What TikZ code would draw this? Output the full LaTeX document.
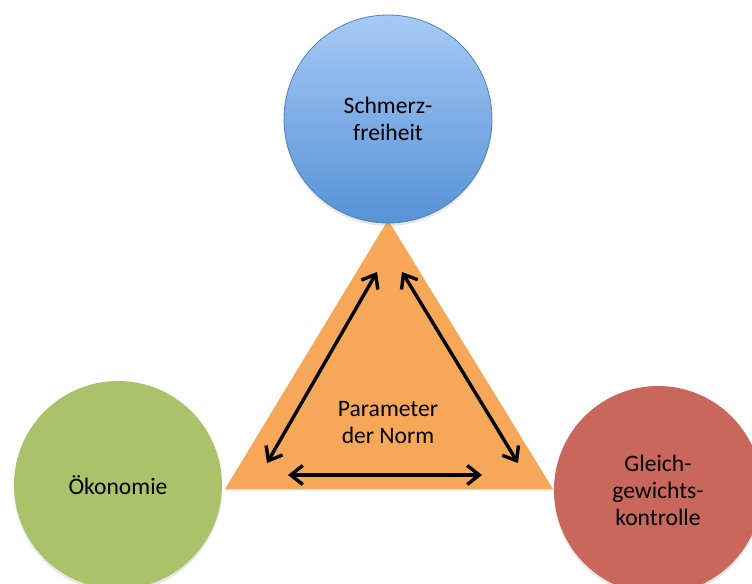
\documentclass[tikz,border=0pt]{standalone}
\usepackage{fontspec}
\setmainfont{Carlito}
\usepackage{tikz}
\usetikzlibrary{arrows.meta,shadows}
\definecolor{blueTop}{RGB}{166,202,246}
\definecolor{blueBot}{RGB}{86,146,214}
\definecolor{blueLine}{RGB}{80,128,190}
\definecolor{greenFill}{RGB}{170,194,106}
\definecolor{redFill}{RGB}{201,103,92}
\definecolor{orangeFill}{RGB}{246,168,88}

\begin{document}
\begin{tikzpicture}[x=0.5pt,y=-0.5pt,
  goal/.style={circle,minimum size=104pt,inner sep=0pt,align=center,
               font=\fontsize{11.8}{13.5}\selectfont,
               drop shadow={opacity=0.2,shadow xshift=0pt,shadow yshift=-1.5pt}},
  norm/.style={fill=orangeFill,
               drop shadow={opacity=0.15,shadow xshift=0pt,shadow yshift=-1pt}},
  arr/.style={{Straight Barb[length=6pt,width=9.5pt]}-{Straight Barb[length=6pt,width=9.5pt]},
              line width=1.7pt,black}
]
  \useasboundingbox (0,0) rectangle (752,584);
  \clip (0,0) rectangle (752,584);

  % triangle
  \coordinate (apex) at (388,220);
  \coordinate (bl) at (225,489);
  \coordinate (br) at (553,489);
  \path[norm] (apex) -- (br) -- (bl) -- cycle;

  % circles
  \node[goal,top color=blueTop,bottom color=blueBot,draw=blueLine,line width=0.4pt]
    (schmerz) at (388,119) {Schmerz-\\freiheit};
  \node[goal,fill=greenFill] (oeko) at (118,485) {Ökonomie};
  \node[goal,fill=redFill] (gleich) at (658,490) {Gleich-\\gewichts-\\kontrolle};

  \node[align=center,font=\fontsize{11.8}{13.5}\selectfont] (param) at (388,423)
    {Parameter\\der Norm};

  % arrows
  \coordinate (aL1) at (377,272);
  \coordinate (aL2) at (267,463);
  \coordinate (aR1) at (402,272);
  \coordinate (aR2) at (518,463);
  \coordinate (aB1) at (288,475);
  \coordinate (aB2) at (482,475);
  \draw[arr] (aL1)--(aL2);
  \draw[arr] (aR1)--(aR2);
  \draw[arr] (aB1)--(aB2);
\end{tikzpicture}
\end{document}
